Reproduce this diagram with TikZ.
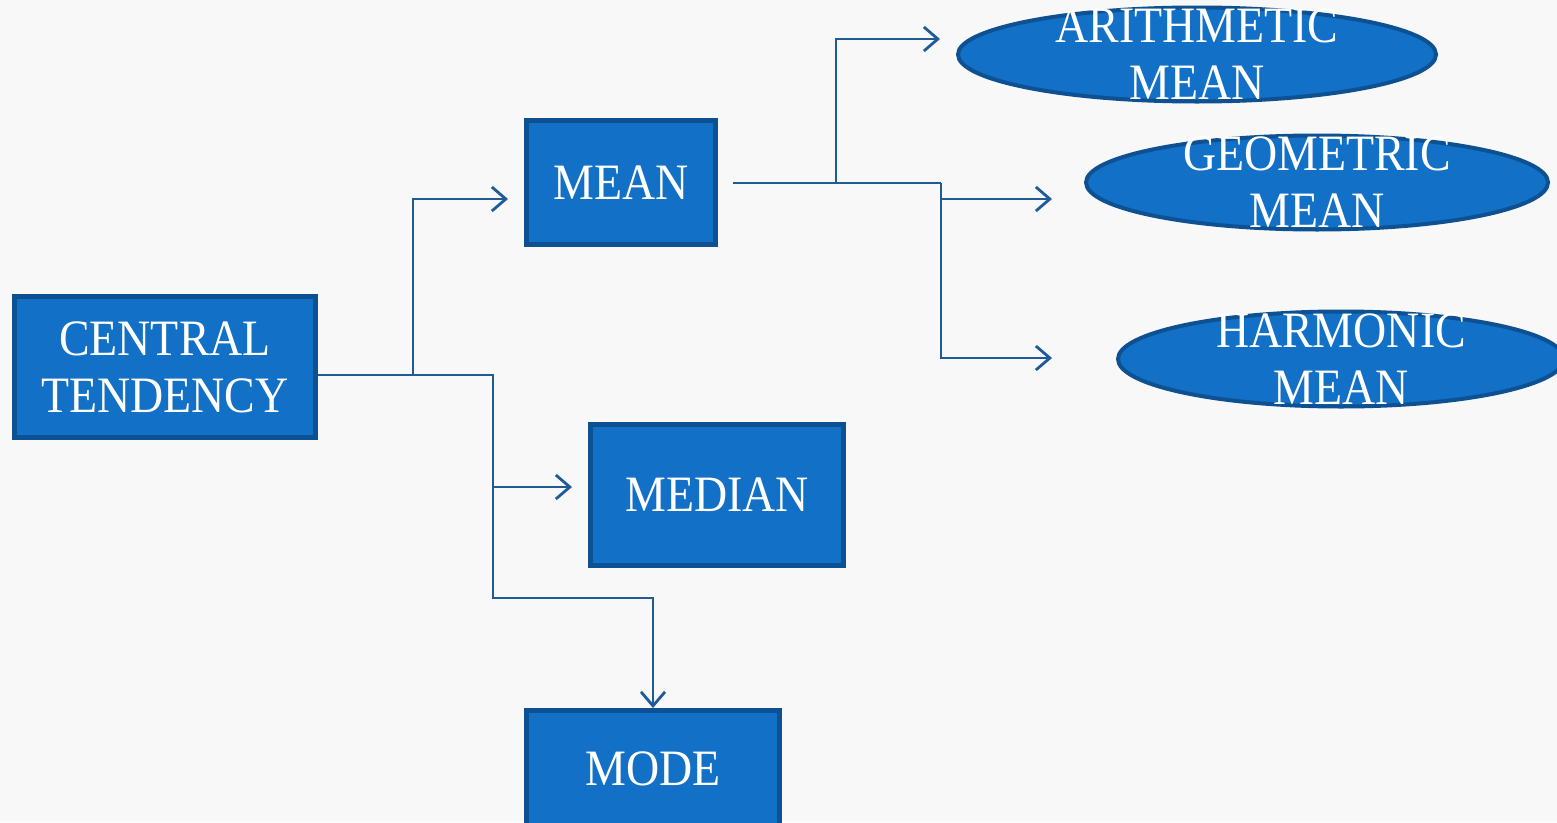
\documentclass[tikz,border=0pt]{standalone}
\usepackage{fontspec}
\setmainfont{Liberation Serif}[FakeStretch=0.9]
\usetikzlibrary{arrows.meta,shapes.geometric}
\definecolor{boxfill}{HTML}{1270C6}
\definecolor{boxline}{HTML}{0E5192}
\definecolor{conncol}{HTML}{1F5A99}
\definecolor{bgcol}{HTML}{F8F8F8}
\tikzset{
  bigtext/.style={font=\fontsize{51}{57}\selectfont, text=white, align=center},
  box/.style={rectangle, draw=boxline, fill=boxfill, line width=5pt, inner sep=0pt, bigtext},
  oval/.style={ellipse, draw=boxline, fill=boxfill, line width=4pt, inner sep=0pt},
  ovaltext/.style={bigtext},
  conn/.style={draw=conncol, line width=2.8pt},
  tip/.style={-{Straight Barb[length=14pt,width=24pt]}}
}
\begin{document}
\begin{tikzpicture}[x=1pt,y=-1pt]
\useasboundingbox (0,0) rectangle (1557,822);
\fill[bgcol] (0,0) rectangle (1557,822);
\clip (0,0) rectangle (1557,822);

% nodes
\node[box, minimum width=301pt, minimum height=141pt] (ct) at (165,367) {CENTRAL\\TENDENCY};
\node[box, minimum width=189pt, minimum height=124pt] (mean) at (621,182.5) {MEAN};
\node[box, minimum width=253pt, minimum height=141pt] (median) at (717,495) {MEDIAN};
\node[box, minimum width=253pt, minimum height=116pt] (mode) at (653,768.5) {MODE};

\node[oval, minimum width=478pt, minimum height=94pt,
      label={[ovaltext]center:{ARITHMETIC\\MEAN}}] (am) at (1197,54.5) {};
\node[oval, minimum width=462pt, minimum height=94pt,
      label={[ovaltext]center:{GEOMETRIC\\MEAN}}] (gm) at (1317,182.5) {};
\node[oval, minimum width=446pt, minimum height=95pt,
      label={[ovaltext]center:{HARMONIC\\MEAN}}] (hm) at (1341,359) {};

% junctions and arrow ends
\coordinate (b1) at (413,375);
\coordinate (b2) at (493,375);
\coordinate (b3) at (493,598);
\coordinate (tmean) at (508,199);
\coordinate (tmed) at (572,487);
\coordinate (smean) at (733,183);
\coordinate (c1) at (836,183);
\coordinate (c2) at (941,183);
\coordinate (tam) at (940,39);
\coordinate (tgm) at (1052,199);
\coordinate (thm) at (1052,358);

% connectors
\draw[conn, tip] (ct.east |- b2) -- (b2) -- (b3) -| (mode.north);
\draw[conn, tip] (b1) |- (tmean);
\draw[conn, tip] (b2 |- tmed) -- (tmed);
\draw[conn] (smean) -- (c2);
\draw[conn, tip] (c2) |- (thm);
\draw[conn, tip] (c1) |- (tam);
\draw[conn, tip] (c2 |- tgm) -- (tgm);
\end{tikzpicture}
\end{document}
